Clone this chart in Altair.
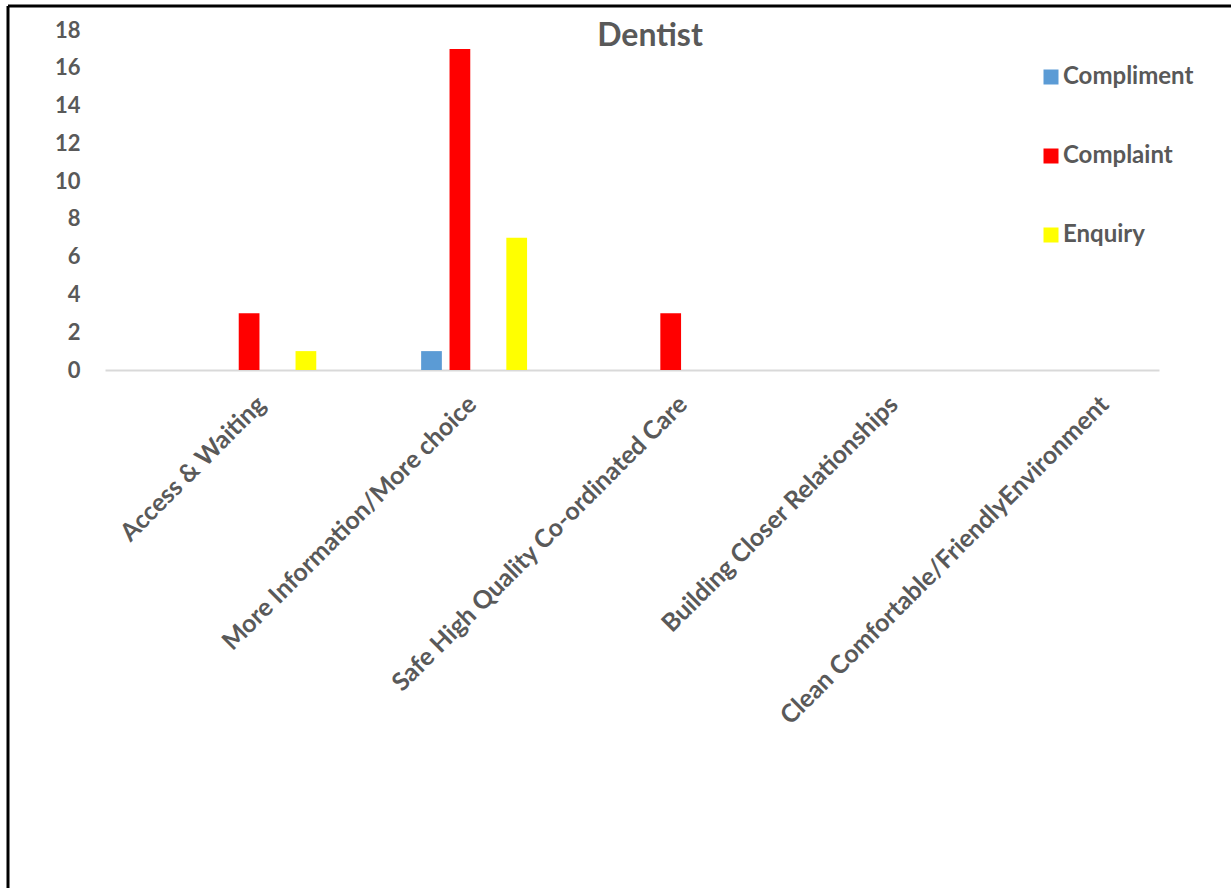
import altair as alt
import pandas as pd

# Feedback themes and counts per feedback type
categories = [
    "Access & Waiting",
    "More Information/More choice",
    "Safe High Quality Co-ordinated Care",
    "Building Closer Relationships",
    "Clean Comfortable/FriendlyEnvironment",
]
compliment = [0, 1, 0, 0, 0]
complaint = [3, 17, 3, 0, 0]
enquiry = [1, 7, 0, 0, 0]

series_names = ["Compliment", "Complaint", "Enquiry"]
series_colors = ["#5b9bd5", "#ff0000", "#ffff00"]
y_ticks = [0, 2, 4, 6, 8, 10, 12, 14, 16, 18]
chart_title = "Dentist"

rows = []
for name, values in zip(series_names, [compliment, complaint, enquiry]):
    for cat, v in zip(categories, values):
        rows.append({"Theme": cat, "Type": name, "Count": v})
df = pd.DataFrame(rows)

TEXT = "#595959"
FONT = "Lato"

bars = alt.Chart(df).mark_bar().encode(
    x=alt.X(
        "Theme:N",
        sort=categories,
        scale=alt.Scale(paddingInner=0, paddingOuter=0),
        axis=alt.Axis(
            title=None,
            labelAngle=-45,
            labelAlign="right",
            labelBaseline="middle",
            labelFont=FONT,
            labelFontWeight="bold",
            labelFontSize=25,
            labelColor=TEXT,
            labelPadding=30,
            labelOffset=51,
            labelLimit=600,
            ticks=False,
            domainColor="#d9d9d9",
            domainWidth=2,
            grid=False,
        ),
    ),
    xOffset=alt.XOffset(
        "Type:N",
        scale=alt.Scale(
            domain=["Compliment", "Complaint", "gap", "Enquiry"],
            range=[101.5, 215.1],
            paddingInner=0.27,
            paddingOuter=0.135,
        ),
    ),
    y=alt.Y(
        "Count:Q",
        scale=alt.Scale(domain=[0, 18], nice=False),
        axis=alt.Axis(
            title=None,
            values=y_ticks,
            labelFont=FONT,
            labelFontWeight="bold",
            labelFontSize=22,
            labelColor=TEXT,
            labelPadding=25,
            ticks=False,
            domain=False,
            grid=False,
        ),
    ),
    color=alt.Color(
        "Type:N",
        scale=alt.Scale(domain=series_names, range=series_colors),
        legend=alt.Legend(
            title=None,
            orient="none",
            legendX=934,
            legendY=35,
            symbolType="square",
            symbolSize=225,
            symbolStrokeWidth=0,
            labelFont=FONT,
            labelFontWeight="bold",
            labelFontSize=24,
            labelColor=TEXT,
            labelOffset=0,
            rowPadding=55,
        ),
    ),
)

# Chart title drawn inside the plot frame
title_df = pd.DataFrame({"label": [chart_title]})
title = alt.Chart(title_df).mark_text(
    font=FONT, fontWeight="bold", fontSize=32, color=TEXT,
    align="center", baseline="alphabetic",
).encode(text="label:N", x=alt.value(545), y=alt.value(16))

# Outer chart border (top and left edges)
frame_df = pd.DataFrame({"k": [0]})
frame_top = alt.Chart(frame_df).mark_rule(color="black", strokeWidth=3).encode(
    x=alt.value(-97), x2=alt.value(1200), y=alt.value(-24)
)
frame_left = alt.Chart(frame_df).mark_rule(color="black", strokeWidth=3).encode(
    x=alt.value(-97), y=alt.value(-24), y2=alt.value(900)
)

chart = alt.layer(bars, title, frame_top, frame_left).properties(
    width=1054,
    height=340,
    autosize=alt.AutoSizeParams(type="none"),
    padding={"left": 105, "top": 30, "right": 72, "bottom": 518},
).configure(background="white").configure_view(stroke=None)

chart.save("out.html", embed_options={"renderer": "svg", "actions": False})
